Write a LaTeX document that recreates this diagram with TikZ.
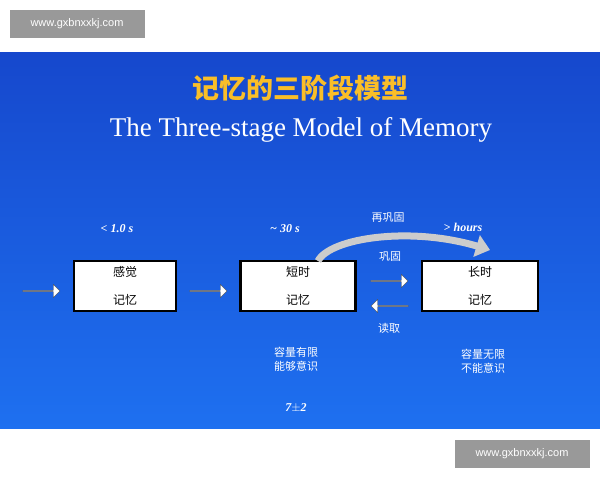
\documentclass[tikz,border=0pt]{standalone}
\usepackage{fontspec}
\setmainfont{Liberation Serif}
\newfontfamily\cjk{Noto Sans CJK SC}
\newfontfamily\wmfont{Liberation Sans}
\usetikzlibrary{shapes.arrows,arrows.meta,positioning}
\definecolor{slidetop}{RGB}{22,72,205}
\definecolor{slidebot}{RGB}{30,112,240}
\definecolor{titleorange}{RGB}{250,190,40}
\tikzset{
  memBox/.style={draw=black, line width=2.5pt, fill=white, minimum width=#1, minimum height=50pt, inner sep=0pt},
  blockArrow/.style={single arrow, draw=black!70, fill=white, minimum height=37pt, minimum width=13pt, single arrow head extend=2pt, inner sep=0pt},
  timeLabel/.style={text=white, font=\bfseries\itshape\fontsize{12}{12}\selectfont},
  cnLabel/.style={text=white, font=\cjk\fontsize{11}{14}\selectfont, align=center},
  boxText/.style={font=\cjk\fontsize{12}{14}\selectfont},
  waterMark/.style={fill=black!40, text=white, font=\wmfont\fontsize{11}{11}\selectfont, minimum width=135pt, minimum height=28pt}
}
\begin{document}
\begin{tikzpicture}[x=1pt,y=-1pt]
\useasboundingbox (0,0) rectangle (600,480);
\fill[white] (0,0) rectangle (600,480);
\shade[top color=slidetop, bottom color=slidebot] (0,52) rectangle (600,428);
% watermarks
\node (wm1) [waterMark] at (77,24) {www.gxbnxxkj.com};
\node (wm2) [waterMark] at (522,454) {www.gxbnxxkj.com};
% titles
\node (title) [text=titleorange, font=\cjk\bfseries\fontsize{27}{27}\selectfont] at (300,88) {记忆的三阶段模型};
\node (subtitle) [text=white, font=\fontsize{27}{27}\selectfont] at (301,130) {The Three-stage Model of Memory};
% boxes
\node (sensory) [memBox=102pt] at (125,286) {};
\node (short) [memBox=115pt] at (298,286) {};
\node (long) [memBox=116pt] at (480,286) {};
\node [boxText] at (125,272) {感觉};
\node [boxText] at (125,300) {记忆};
\node [boxText] at (298,272) {短时};
\node [boxText] at (298,300) {记忆};
\node [boxText] at (480,272) {长时};
\node [boxText] at (480,300) {记忆};
% block arrows
\node (in) [blockArrow] at (41,291) {};
\node (toShort) [blockArrow] at (208,291) {};
\node (toLong) [blockArrow] at (389,281) {};
\node (toBack) [blockArrow, shape border rotate=180] at (390,306) {};
% curved arrow
\coordinate (reStart) at (318,261);
\coordinate (reEnd) at (490,250);
\draw[line width=7pt, black!20, -{Triangle[length=14pt,width=22pt]}] (reStart) .. controls (330,238) and (410,226) .. (reEnd);
% labels
\node (t1) [timeLabel] at (117,229) {< 1.0 s};
\node (t2) [timeLabel] at (285,229) {\textasciitilde{} 30 s};
\node (t3) [timeLabel] at (463,227) {> hours};
\node (recons) [cnLabel] at (388,218) {再巩固};
\node (cons) [cnLabel] at (390,257) {巩固};
\node (read) [cnLabel] at (389,328) {读取};
\node (capShort) [cnLabel] at (296,359) {容量有限\\能够意识};
\node (capLong) [cnLabel] at (483,361) {容量无限\\不能意识};
\node (span) [timeLabel] at (296,408) {7$\pm$2};
\end{tikzpicture}
\end{document}
